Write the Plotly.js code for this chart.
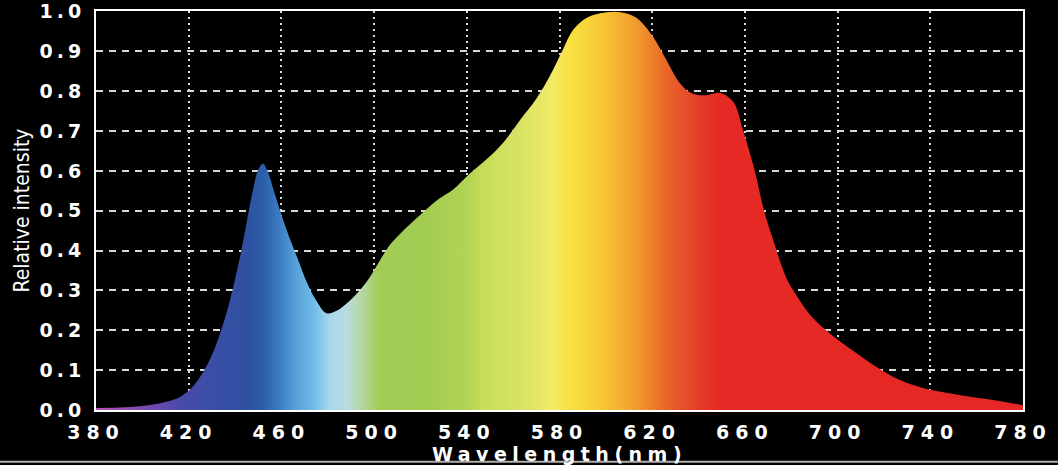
<!DOCTYPE html>
<html>
<head>
<meta charset="utf-8">
<script src="https://cdn.plot.ly/plotly-3.0.1.min.js"></script>
<style>
html, body { margin:0; padding:0; background:#000; }
#chart { width:1058px; height:465px; }
.xtick text { letter-spacing: 6px; }
.ytick text { letter-spacing: 4px; }
.g-xtitle text { letter-spacing: 5.5px; }
</style>
</head>
<body>
<div id="chart"></div>
<script>
// Spectrum data
const wavelengths = [380, 390, 400, 410, 416, 422, 429, 434, 438, 442, 445, 448, 450, 452, 454, 457, 460, 463, 467, 471, 475, 479.5, 484, 488, 493, 498, 503, 507, 512, 520, 528, 534, 541, 549, 556, 563, 570, 576, 581.5, 586, 592, 599, 607, 613, 620, 626, 632, 637, 643, 649, 655, 659, 664, 668, 672, 678, 682, 688, 695, 702, 710, 717, 724, 732, 739, 753, 767, 780];
const intensity = [0.005, 0.006, 0.01, 0.02, 0.032, 0.06, 0.125, 0.2, 0.28, 0.38, 0.47, 0.56, 0.603, 0.618, 0.6, 0.545, 0.49, 0.44, 0.38, 0.32, 0.275, 0.243, 0.25, 0.267, 0.295, 0.332, 0.38, 0.416, 0.447, 0.49, 0.53, 0.553, 0.592, 0.632, 0.673, 0.728, 0.781, 0.84, 0.905, 0.955, 0.985, 0.997, 0.998, 0.985, 0.94, 0.88, 0.82, 0.795, 0.79, 0.796, 0.773, 0.706, 0.606, 0.506, 0.43, 0.33, 0.29, 0.24, 0.2, 0.168, 0.135, 0.107, 0.083, 0.064, 0.052, 0.037, 0.025, 0.012];

// Spectral colour gradient stops
const gradientNm = [380, 400, 416, 430, 445, 452, 459, 466, 474, 481, 488, 495, 502, 524, 541, 546, 563, 577, 585, 599, 613, 620, 628, 642, 649, 780];
const gradientColors = ['#c050b8', '#7a4cb0', '#4a4aa8', '#3b4ea6', '#2f50a0', '#2a5ea8', '#3d7cc0', '#55a0d8', '#6fbde8', '#a8d8ec', '#b7dce0', '#b5d6a0', '#a3cc58', '#a2cc50', '#b4d455', '#c6dc58', '#d8e264', '#f2ea66', '#f9e040', '#f6c535', '#f09c2f', '#ee7e26', '#e8602a', '#e5382a', '#e52a25', '#e52725'];

// Axis ticks
const xTicks = [380, 420, 460, 500, 540, 580, 620, 660, 700, 740, 780];
const yTicks = [0.0, 0.1, 0.2, 0.3, 0.4, 0.5, 0.6, 0.7, 0.8, 0.9, 1.0];

const xMin = 380, xMax = 780;
const colorscale = gradientNm.map((nm, i) => [(nm - xMin) / (xMax - xMin), gradientColors[i]]);

const trace = {
  x: wavelengths,
  y: intensity,
  type: 'scatter',
  mode: 'lines',
  line: { shape: 'spline', smoothing: 1, width: 0, color: 'rgba(0,0,0,0)' },
  fill: 'tozeroy',
  fillgradient: { type: 'horizontal', colorscale: colorscale, start: xMin, stop: xMax },
  hoverinfo: 'skip'
};

const tickFont = { family: 'DejaVu Sans', size: 19, color: '#ffffff', weight: 'bold' };

const layout = {
  width: 1058, height: 465,
  paper_bgcolor: '#000000',
  plot_bgcolor: '#000000',
  margin: { l: 96, r: 35, t: 11, b: 55 },
  showlegend: false,
  xaxis: {
    range: [xMin, xMax],
    tickvals: xTicks,
    ticktext: xTicks.map(String),
    tickfont: tickFont,
    ticks: '',
    ticklabelstandoff: 4,
    ticklabeloverflow: 'allow',
    showgrid: true,
    gridcolor: '#d8d8d8',
    gridwidth: 2,
    griddash: '2px,4px',
    showline: true, linecolor: '#ffffff', linewidth: 2, mirror: true,
    zeroline: false,
    title: { text: 'Wavelength(nm)', font: { family: 'DejaVu Sans', size: 19, color: '#ffffff', weight: 'bold' }, standoff: 0 }
  },
  yaxis: {
    range: [0, 1.0015],
    tickvals: yTicks,
    ticktext: yTicks.map(v => v.toFixed(1)),
    tickfont: tickFont,
    ticks: '',
    ticklabelstandoff: 5,
    ticklabeloverflow: 'allow',
    showgrid: true,
    gridcolor: '#d8d8d8',
    gridwidth: 2,
    griddash: '7px,6px',
    showline: true, linecolor: '#ffffff', linewidth: 2, mirror: true,
    zeroline: false,
    title: { text: 'Relative intensity', font: { family: 'Liberation Sans Narrow, DejaVu Sans Condensed, Roboto Condensed, Liberation Sans', size: 21, color: '#ffffff' }, standoff: 4 }
  },
  shapes: [
    { type: 'line', xref: 'paper', yref: 'paper', x0: -0.11, x1: 1.04, y0: -0.13, y1: -0.13, line: { color: '#b0b0b0', width: 2 } }
  ]
};

Plotly.newPlot('chart', [trace], layout, { displayModeBar: false, staticPlot: true });
</script>
</body>
</html>
